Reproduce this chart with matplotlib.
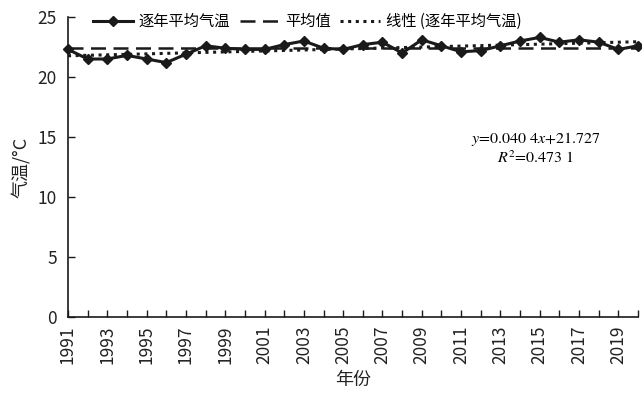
import numpy as np
import matplotlib
matplotlib.use("Agg")
import matplotlib.pyplot as plt

plt.rcParams["font.family"] = ["Noto Sans CJK SC", "DejaVu Sans"]
plt.rcParams["mathtext.fontset"] = "stix"

# -- Data ----------------------------------------------------------------------
years = np.arange(1991, 2021)
temps = [22.3, 21.5, 21.5, 21.8, 21.5, 21.2, 21.9, 22.6, 22.4, 22.3,
         22.3, 22.7, 23.0, 22.4, 22.3, 22.7, 22.9, 22.0, 23.1, 22.6,
         22.1, 22.2, 22.6, 23.0, 23.3, 22.9, 23.1, 22.9, 22.3, 22.6]
SLOPE, INTERCEPT = 0.0404, 21.727   # from the chart's fit label
year_ticks = list(range(1991, 2020, 2))

mean_t = np.mean(temps)
idx = np.arange(1, len(years) + 1)
trend = SLOPE * idx + INTERCEPT

# -- Plot ----------------------------------------------------------------------
fig = plt.figure(figsize=(6.42, 3.93), dpi=100)
ax = fig.add_axes([68 / 642, 1 - 317 / 393, 570 / 642, 300 / 393])

c = "#1a1a1a"
ax.plot(years, temps, color=c, lw=2.2, marker="D", ms=5, clip_on=False,
        label="逐年平均气温", zorder=4)
ax.plot(years, [mean_t] * len(years), color=c, lw=1.8, ls=(0, (6, 3)),
        label="平均值", zorder=3)
ax.plot(years, trend, color=c, lw=2.2, ls=(0, (1, 1.5)),
        label="线性 (逐年平均气温)", zorder=3)

ax.set_xlim(1991, 2020)
ax.set_ylim(0, 25)
ax.set_yticks([0, 5, 10, 15, 20, 25])
ax.set_xticks(years, minor=True)
ax.set_xticks(year_ticks)
ax.set_xticklabels([str(y) for y in year_ticks], rotation=90)
ax.tick_params(axis="both", direction="in", labelsize=12.5, color=c,
               labelcolor="#222222", length=5, width=1)
ax.tick_params(axis="x", which="minor", direction="in", length=5, width=1, color=c)
ax.tick_params(axis="x", pad=6)
ax.tick_params(axis="y", pad=8)
for s in ["top", "right"]:
    ax.spines[s].set_visible(False)
for s in ["left", "bottom"]:
    ax.spines[s].set_color(c)
    ax.spines[s].set_linewidth(1.2)

ax.set_ylabel("气温/°C", fontsize=13, color="#222222", labelpad=5)
ax.set_xlabel("年份", fontsize=13, color="#222222", labelpad=5)

ax.text(0.82, 0.595, "$y$=0.040 4$x$+21.727", transform=ax.transAxes,
        ha="center", va="center", fontsize=11.5, family="STIXGeneral")
ax.text(0.82, 0.53, "$R^2$=0.473 1", transform=ax.transAxes,
        ha="center", va="center", fontsize=11.5, family="STIXGeneral")

ax.legend(loc="center", bbox_to_anchor=(0.42, 0.985), ncol=3, frameon=False,
          fontsize=11, handlelength=2.6, columnspacing=0.6, handletextpad=0.4)

plt.savefig("out.png", dpi=100)
